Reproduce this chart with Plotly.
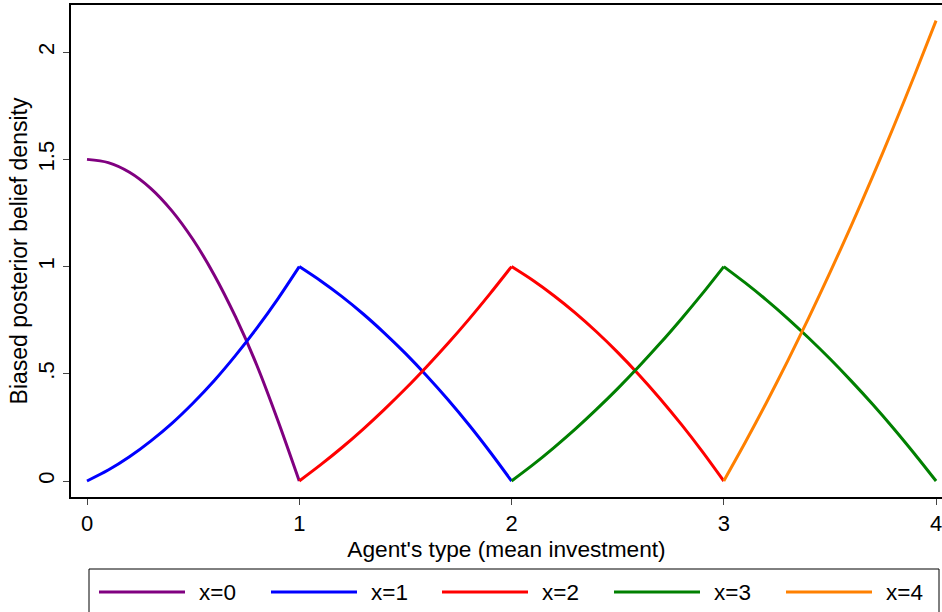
import plotly.graph_objects as go

# Agent's type grid for each posterior (mean investment) and the biased posterior densities
type_x0 = [0.0, 0.1, 0.2, 0.3, 0.4, 0.5, 0.6, 0.7, 0.8, 0.9, 1.0]
dens_x0 = [1.5, 1.485, 1.44, 1.365, 1.26, 1.125, 0.96, 0.765, 0.54, 0.28, 0.0]

type_x1 = [0.0, 0.1, 0.2, 0.3, 0.4, 0.5, 0.6, 0.7, 0.8, 0.9, 1.0,
           1.1, 1.2, 1.3, 1.4, 1.5, 1.6, 1.7, 1.8, 1.9, 2.0]
dens_x1 = [0.0, 0.051, 0.113, 0.186, 0.269, 0.364, 0.469, 0.586, 0.713, 0.851, 1.0,
           0.934, 0.861, 0.780, 0.691, 0.595, 0.491, 0.380, 0.261, 0.134, 0.0]

type_x2 = [1.0, 1.1, 1.2, 1.3, 1.4, 1.5, 1.6, 1.7, 1.8, 1.9, 2.0,
           2.1, 2.2, 2.3, 2.4, 2.5, 2.6, 2.7, 2.8, 2.9, 3.0]
dens_x2 = [0.0, 0.075, 0.155, 0.241, 0.333, 0.43, 0.533, 0.641, 0.755, 0.875, 1.0,
           0.936, 0.864, 0.784, 0.696, 0.6, 0.496, 0.384, 0.264, 0.136, 0.0]

type_x3 = [2.0, 2.1, 2.2, 2.3, 2.4, 2.5, 2.6, 2.7, 2.8, 2.9, 3.0,
           3.1, 3.2, 3.3, 3.4, 3.5, 3.6, 3.7, 3.8, 3.9, 4.0]
dens_x3 = [0.0, 0.075, 0.156, 0.242, 0.334, 0.431, 0.534, 0.642, 0.756, 0.875, 1.0,
           0.925, 0.845, 0.759, 0.667, 0.57, 0.467, 0.359, 0.245, 0.125, 0.0]

type_x4 = [3.0, 3.1, 3.2, 3.3, 3.4, 3.5, 3.6, 3.7, 3.8, 3.9, 4.0]
dens_x4 = [0.0, 0.178, 0.364, 0.558, 0.761, 0.972, 1.19, 1.417, 1.652, 1.896, 2.147]

series_names = ["x=0", "x=1", "x=2", "x=3", "x=4"]
series_colors = ["#800080", "#0000ff", "#ff0000", "#008000", "#ff8000"]

x_ticks = [0, 1, 2, 3, 4]
y_ticks = [0, 0.5, 1, 1.5, 2]
y_tick_text = ["0", ".5", "1", "1.5", "2"]

FONT = "Liberation Sans, Arial, Helvetica, sans-serif"
W, H = 942, 612
ML, MR, MT, MB = 71, 0, 5, 115
PW, PH = W - ML - MR, H - MT - MB


def px_x(px):
    return (px - ML) / PW


def px_y(py):
    return (H - MB - py) / PH


def monotone_pieces(xs, ys):
    """Split a curve at its peak so each smooth piece keeps the sharp kink."""
    k = ys.index(max(ys))
    pieces = []
    if k > 0:
        pieces.append((xs[:k + 1], ys[:k + 1]))
    if k < len(ys) - 1:
        pieces.append((xs[k:], ys[k:]))
    return pieces


fig = go.Figure()
all_types = [type_x0, type_x1, type_x2, type_x3, type_x4]
all_dens = [dens_x0, dens_x1, dens_x2, dens_x3, dens_x4]
for name, color, xs, ys in zip(series_names, series_colors, all_types, all_dens):
    for px_, py_ in monotone_pieces(xs, ys):
        fig.add_trace(go.Scatter(x=px_, y=py_, mode="lines", name=name, legendgroup=name,
                                 line=dict(color=color, width=3, shape="spline", smoothing=0.8),
                                 showlegend=False))

# hand-built legend strip below the plot
shapes = [dict(type="rect", xref="paper", yref="paper",
               x0=px_x(89), x1=px_x(939), y0=px_y(622), y1=px_y(569),
               line=dict(color="black", width=1), fillcolor="rgba(0,0,0,0)")]
annotations = []
item_left = [99, 271, 442, 614, 786]
for left, name, color in zip(item_left, series_names, series_colors):
    shapes.append(dict(type="line", xref="paper", yref="paper",
                       x0=px_x(left), x1=px_x(left + 86), y0=px_y(592), y1=px_y(592),
                       line=dict(color=color, width=3)))
    annotations.append(dict(xref="paper", yref="paper", x=px_x(left + 98), y=px_y(592),
                            text=name, showarrow=False, xanchor="left", yanchor="middle",
                            font=dict(family=FONT, size=22.5, color="black")))

fig.update_layout(
    width=W, height=H,
    margin=dict(l=ML, r=MR, t=MT, b=MB, autoexpand=False),
    paper_bgcolor="white", plot_bgcolor="white",
    font=dict(family=FONT, size=22, color="black"),
    shapes=shapes, annotations=annotations,
    xaxis=dict(range=[-0.0754, 4.028], tickvals=x_ticks, ticks="outside", ticklen=6,
               tickcolor="#444", showline=True, linecolor="black", linewidth=1.5,
               mirror=True, showgrid=False, zeroline=False, ticklabeloverflow="allow",
               title=dict(text="Agent's type (mean investment)", standoff=2,
                          font=dict(size=22.7)),
               tickfont=dict(size=22)),
    yaxis=dict(range=[-0.0746, 2.220], tickvals=y_ticks, ticktext=y_tick_text,
               tickangle=-90, ticks="outside", ticklen=6, tickcolor="#444",
               showline=True, linecolor="black", linewidth=1.5, showgrid=False,
               zeroline=False, ticklabeloverflow="allow",
               title=dict(text="Biased posterior belief density", standoff=0,
                          font=dict(size=23)),
               tickfont=dict(size=22)),
)

fig.write_html("out.html")
